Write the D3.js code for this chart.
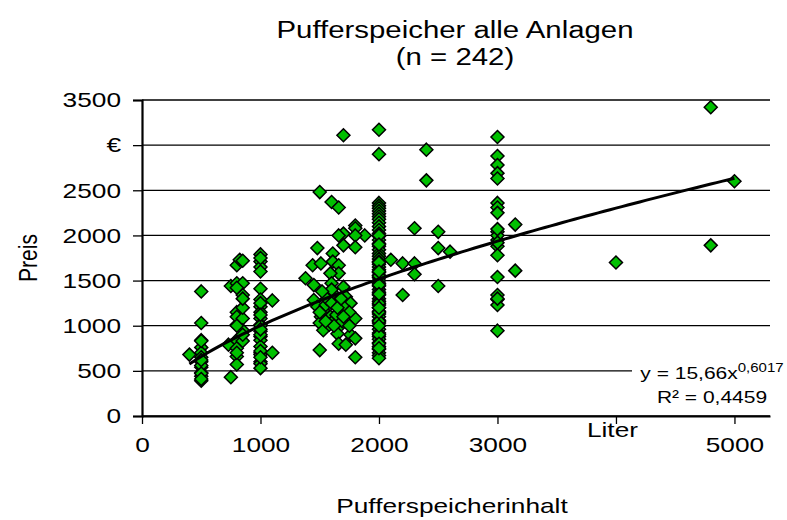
<!DOCTYPE html>
<html>
<head>
<meta charset="utf-8">
<script src="https://cdn.jsdelivr.net/npm/d3@7"></script>
<style>
  body { margin: 0; background: #fff; }
  text { font-family: "Liberation Sans", Arial, sans-serif; fill: #000; }
</style>
</head>
<body>
<script>
// Pufferspeicher: Inhalt (Liter) vs. Preis (€)
let inhalt = [
  400,
  500, 500, 500, 500, 500, 500, 500, 500, 500, 500, 500, 500, 500, 500, 500, 500,
  750, 730, 750,
  800, 800, 800, 800, 800, 800, 800, 800, 800, 825, 850, 850, 850, 850, 850, 850, 850,
  800, 850, 800, 850, 800,
  1000, 1000, 1000, 1000, 1000, 1000, 1000, 1000, 1000, 1000, 1000, 1000, 1000, 1000,
  1000, 1000, 1000, 1000, 1000, 1000, 1000, 1000, 1000, 1000, 1000, 1000, 1000,
  1100, 1100,
  1380, 1440, 1450, 1450, 1480, 1500, 1510, 1480, 1530, 1510, 1500, 1530, 1500,
  1600, 1660, 1610, 1610, 1660, 1660, 1590, 1600, 1700, 1610, 1720, 1660, 1760,
  1700, 1660, 1590, 1620, 1580, 1680, 1650, 1760, 1660, 1720, 1700, 1800, 1800,
  1700, 1660, 1880, 1800, 1700, 1800, 1800, 1800, 1800,
  1550, 1640, 1560, 1750, 1690, 1620, 1500, 1600, 1700, 1650, 1550, 1750, 1600, 1680, 1520,
  2000, 2000, 2000, 2000, 2000, 2000, 2000, 2000, 2000, 2000, 2000, 2000, 2000, 2000,
  2000, 2000, 2000, 2000, 2000, 2000, 2000, 2000, 2000, 2000, 2000, 2000, 2000, 2000,
  2000, 2000, 2000, 2000, 2000, 2000, 2000, 2000, 2000, 2000, 2000, 2000, 2000, 2000,
  2000, 2000, 2000, 2000, 2000, 2000, 2000, 2000, 2000, 2000, 2000, 2000, 2000, 2000,
  2000, 2000, 2000, 2000, 2000, 2000, 2000, 2000, 2000, 2000, 2000, 2000, 2000,
  2100, 2200, 2300, 2300, 2300, 2200, 2400, 2400, 2500, 2500, 2600, 2500,
  3000, 3000, 3000, 3000, 3000, 3000, 3000, 3000, 3000, 3000, 3000, 3000, 3000,
  3000, 3000, 3000, 3000, 3000, 3000, 3000, 3000,
  3150, 3150,
  4000, 4800, 4800, 5000
];
let preis = [
  680,
  1380, 1030, 840, 760, 700, 650, 600, 540, 480, 440, 390, 830, 560, 470, 620, 410,
  1440, 790, 430,
  1670, 1470, 1150, 1010, 840, 750, 660, 570, 1100, 1730, 1720, 1470, 1340, 1080, 950, 830, 1200,
  1000, 1300, 700, 900, 1420,
  1790, 1710, 1650, 1600, 1410, 1290, 1210, 1150, 1080, 1010, 940, 880, 840, 770,
  700, 680, 600, 580, 530, 1750, 1250, 1000, 900, 720, 650, 1120, 960,
  1280, 700,
  1525, 1670, 1450, 1285, 1860, 2480, 1690, 1210, 1170, 1100, 1030, 950, 730,
  2370, 2310, 1800, 1710, 1670, 1580, 1580, 1470, 1430, 1360, 1320, 1270, 1250,
  1210, 1150, 1100, 1060, 1010, 1010, 910, 900, 800, 790, 3110, 2110, 2080,
  2020, 2000, 2000, 2000, 1890, 1870, 1080, 860, 650,
  1230, 1120, 1300, 1150, 1050, 1000, 1150, 1250, 1100, 1200, 1050, 1000, 1400, 1300, 1380,
  3170, 2900, 2360, 2330, 2300, 2270, 2240, 2210, 2180, 2140, 2100, 2060, 2020, 1990,
  1950, 1910, 1880, 1840, 1800, 1770, 1740, 1710, 1680, 1650, 1620, 1590, 1560, 1530,
  1500, 1470, 1440, 1400, 1370, 1340, 1300, 1270, 1230, 1200, 1160, 1130, 1100, 1060,
  1030, 1000, 960, 920, 880, 850, 810, 770, 740, 700, 670, 640, 1550, 1250,
  1050, 900, 2000, 1700, 1450, 1150, 800, 1350, 1600, 1900, 1000, 1200, 750,
  1730, 1690, 2080, 1690, 1570, 1340, 2950, 2610, 2040, 1860, 1820, 1440,
  3090, 2880, 2780, 2690, 2630, 2360, 2310, 2250, 2040, 1950, 1880, 1780, 1540,
  1340, 1290, 1230, 945, 2000, 1920, 2070, 1300,
  2120, 1610,
  1700, 3420, 1890, 2600
];
let xTicks = [0, 1000, 2000, 3000, 4000, 5000];
let xTickLabels = ["0", "1000", "2000", "3000", "Liter", "5000"];
let yTicks = [0, 500, 1000, 1500, 2000, 2500, 3000, 3500];
let yTickLabels = ["0", "500", "1000", "1500", "2000", "2500", "€", "3500"];
// Potenz-Trend y = a * x^b
let trendA = 15.66, trendB = 0.6017, trendR2 = "0,4459";
let trendFrom = 400, trendTo = 5000;

let width = 787, height = 520;
let sx = 1.25; // text in the original is stretched sideways
let svg = d3.select("body").append("svg")
    .attr("width", width)
    .attr("height", height);

let x = d3.scaleLinear().domain([0, 5300]).range([142, 770]);
let y = d3.scaleLinear().domain([0, 3500]).range([416, 100]);

function label(px, py, str, size, anchor, rot) {
    return svg.append("text")
        .attr("transform", "translate(" + px + "," + py + ") scale(" + sx + ",1)" + (rot ? " rotate(" + rot + ")" : ""))
        .attr("text-anchor", anchor || "middle")
        .style("font-size", size + "px")
        .text(str);
}

// horizontal grid lines
svg.append("g")
  .selectAll("line")
  .data(yTicks)
  .enter()
  .append("line")
    .attr("x1", x(0))
    .attr("x2", x.range()[1])
    .attr("y1", function(d){ return y(d); })
    .attr("y2", function(d){ return y(d); })
    .attr("stroke", "#000")
    .attr("stroke-width", 1.3);

// axes
let yAxis = d3.axisLeft(y)
    .tickValues(yTicks)
    .tickSize(9)
    .tickFormat(function(d, i){ return yTickLabels[i]; });
let gy = svg.append("g")
    .attr("transform", "translate(" + x(0) + ",0)")
    .call(yAxis);
gy.select(".domain").attr("stroke-width", 2.2);
gy.selectAll(".tick line").attr("stroke-width", 1.3);
gy.selectAll("text")
    .style("font-size", "21px")
    .attr("fill", "#000")
    .attr("x", -21 / sx)
    .attr("transform", "scale(" + sx + ",1)");

let xAxis = d3.axisBottom(x)
    .tickValues(xTicks)
    .tickSize(8)
    .tickPadding(14)
    .tickSizeOuter(0)
    .tickFormat(function(d, i){ return xTickLabels[i]; });
let gx = svg.append("g")
    .attr("transform", "translate(0," + y(0) + ")")
    .call(xAxis);
gx.select(".domain").attr("stroke-width", 2);
gx.selectAll(".tick line").attr("stroke-width", 1.3);
gx.selectAll("text")
    .style("font-size", "21px")
    .attr("fill", "#000")
    .attr("transform", "scale(" + sx + ",1)")
    .attr("x", function(d, i){ return xTickLabels[i] === "Liter" ? -4 / sx : 0; })
    .attr("dy", function(d, i){ return xTickLabels[i] === "Liter" ? "-0.05em" : "0.68em"; });

// trend line
let trendPts = d3.range(trendFrom, trendTo + 1, 50).map(function(v){ return [v, trendA * Math.pow(v, trendB)]; });
let lineFunction = d3.line()
    .x(function(d){ return x(d[0]); })
    .y(function(d){ return y(d[1]); });

// points as diamonds
let diamond = "M0,-6.5L6.5,0L0,6.5L-6.5,0Z";
svg.append("g")
  .selectAll("path")
  .data(d3.zip(inhalt, preis))
  .enter()
  .append("path")
    .attr("d", diamond)
    .attr("transform", function(d){ return "translate(" + x(d[0]) + "," + y(d[1]) + ")"; })
    .attr("fill", "#00c000")
    .attr("stroke", "#000")
    .attr("stroke-width", 1.5);

svg.append("path")
    .attr("d", lineFunction(trendPts))
    .attr("fill", "none")
    .attr("stroke", "#000")
    .attr("stroke-width", 3);

// equation label, lines centred (white box behind it, the grid line stops there)
svg.append("rect")
    .attr("x", 632).attr("y", 360).attr("width", 155).attr("height", 45)
    .attr("fill", "#fff");
let eq = label(712, 379, "", 16.8, "middle");
eq.append("tspan").text("y = " + String(trendA).replace(".", ",") + "x");
eq.append("tspan").attr("dy", -7).style("font-size", "12px").text(String(trendB).replace(".", ","));
label(712, 403, "R² = " + trendR2, 16.8, "middle");

// titles
label(455, 38, "Pufferspeicher alle Anlagen", 23.5);
label(455, 65, "(n = " + inhalt.length + ")", 23.5);
label(37, 258, "Preis", 21, "middle", -90);
label(452, 513, "Pufferspeicherinhalt", 21);
</script>
</body>
</html>
